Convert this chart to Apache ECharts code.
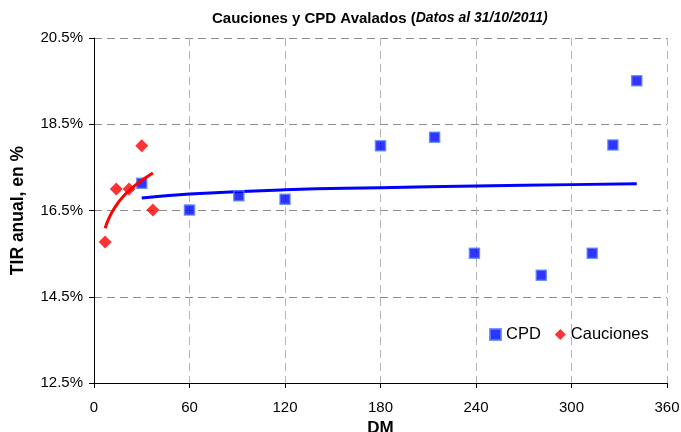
<!DOCTYPE html>
<html>
<head>
<meta charset="utf-8">
<script src="https://cdn.jsdelivr.net/npm/echarts@6/dist/echarts.min.js"></script>
<style>
  html, body { margin: 0; padding: 0; background: #fff; }
  #chart { width: 681px; height: 432px; }
</style>
</head>
<body>
<div id="chart"></div>
<script>
// puntos CPD (dias, tasa %)
var cpdDays = [30, 60, 91, 120, 180, 214, 239, 281, 313, 326, 341]
var cpdRates = [17.13, 16.51, 16.84, 16.76, 18.0, 18.2, 15.51, 15.0, 15.51, 18.02, 19.51]
// cauciones
var caucDays = [7, 14, 22, 30, 37]
var caucRates = [15.77, 17.0, 17.0, 18.0, 16.51]
// lineas de tendencia
var cpdTrendDays = [30, 60, 120, 180, 240, 300, 341]
var cpdTrendRates = [16.79, 16.88, 16.98, 17.03, 17.07, 17.10, 17.12]
var caucTrendDays = [7, 10, 14, 18, 22, 26, 30, 37]
var caucTrendRates = [16.09, 16.37, 16.62, 16.81, 16.96, 17.09, 17.20, 17.37]

function pairs (xs, ys) {
  var out = []
  for (var i = 0; i < xs.length; i++) {
    out.push([xs[i], ys[i]])
  }
  return out
}

var font = 'Liberation Sans, Arial, sans-serif'
var chart = echarts.init(document.getElementById('chart'))

chart.setOption({
  animation: false,
  textStyle: { fontFamily: font },
  title: {
    left: 207,
    top: 6,
    text: '{b|Cauciones y CPD Avalados (}{i|Datos al 31/10/2011)}',
    textStyle: {
      rich: {
        b: { fontFamily: font, fontSize: 15, fontWeight: 'bold', color: '#000' },
        i: { fontFamily: font, fontSize: 14, fontStyle: 'italic', color: '#000' }
      }
    }
  },
  legend: {
    left: 484,
    top: 321,
    itemWidth: 11,
    itemHeight: 11,
    itemGap: 14,
    textStyle: { fontFamily: font, fontSize: 16.5, color: '#000' },
    data: [
      { name: 'CPD', icon: 'rect' },
      { name: 'Cauciones', icon: 'diamond' }
    ]
  },
  grid: { left: 94, right: 14, top: 38, bottom: 49, outerBoundsMode: 'none', containLabel: false },
  xAxis: {
    type: 'value',
    min: 0,
    max: 360,
    interval: 60,
    name: 'DM',
    nameLocation: 'middle',
    nameGap: 33,
    nameTextStyle: { fontFamily: font, fontSize: 17, fontWeight: 'bold', color: '#000' },
    axisLine: { show: true, lineStyle: { color: '#000', width: 1 } },
    axisTick: { show: true, length: 5, lineStyle: { color: '#000' } },
    axisLabel: { fontFamily: font, fontSize: 15, color: '#000', margin: 17 },
    splitLine: { show: true, lineStyle: { color: '#b4b4b4', type: [8, 5], width: 1 } }
  },
  yAxis: {
    type: 'value',
    min: 12.5,
    max: 20.5,
    interval: 2,
    name: 'TIR anual, en %',
    nameLocation: 'middle',
    nameGap: 67,
    nameTextStyle: { fontFamily: font, fontSize: 17.5, fontWeight: 'bold', color: '#000' },
    axisLine: { show: true, lineStyle: { color: '#000', width: 1 } },
    axisTick: { show: true, length: 5, lineStyle: { color: '#000' } },
    axisLabel: {
      fontFamily: font,
      fontSize: 15,
      color: '#000',
      margin: 11,
      formatter: function (v) { return v.toFixed(1) + '%' }
    },
    splitLine: { show: true, lineStyle: { color: '#8c8c8c', type: [8, 5], width: 1 } }
  },
  series: [
    {
      name: 'CPD trend',
      type: 'line',
      smooth: true,
      showSymbol: false,
      data: pairs(cpdTrendDays, cpdTrendRates),
      lineStyle: { color: '#0000ff', width: 3 },
      z: 2
    },
    {
      name: 'Cauciones trend',
      type: 'line',
      smooth: true,
      showSymbol: false,
      data: pairs(caucTrendDays, caucTrendRates),
      lineStyle: { color: '#ff0000', width: 3 },
      z: 4
    },
    {
      name: 'Cauciones',
      type: 'scatter',
      symbol: 'diamond',
      symbolSize: 13,
      data: pairs(caucDays, caucRates),
      itemStyle: { color: '#ff0000' },
      z: 3
    },
    {
      name: 'CPD',
      type: 'scatter',
      symbol: 'rect',
      symbolSize: 10,
      data: pairs(cpdDays, cpdRates),
      itemStyle: { color: '#0000ff', borderColor: '#5080ff', borderWidth: 1.5 },
      z: 3
    }
  ]
})
</script>
</body>
</html>
